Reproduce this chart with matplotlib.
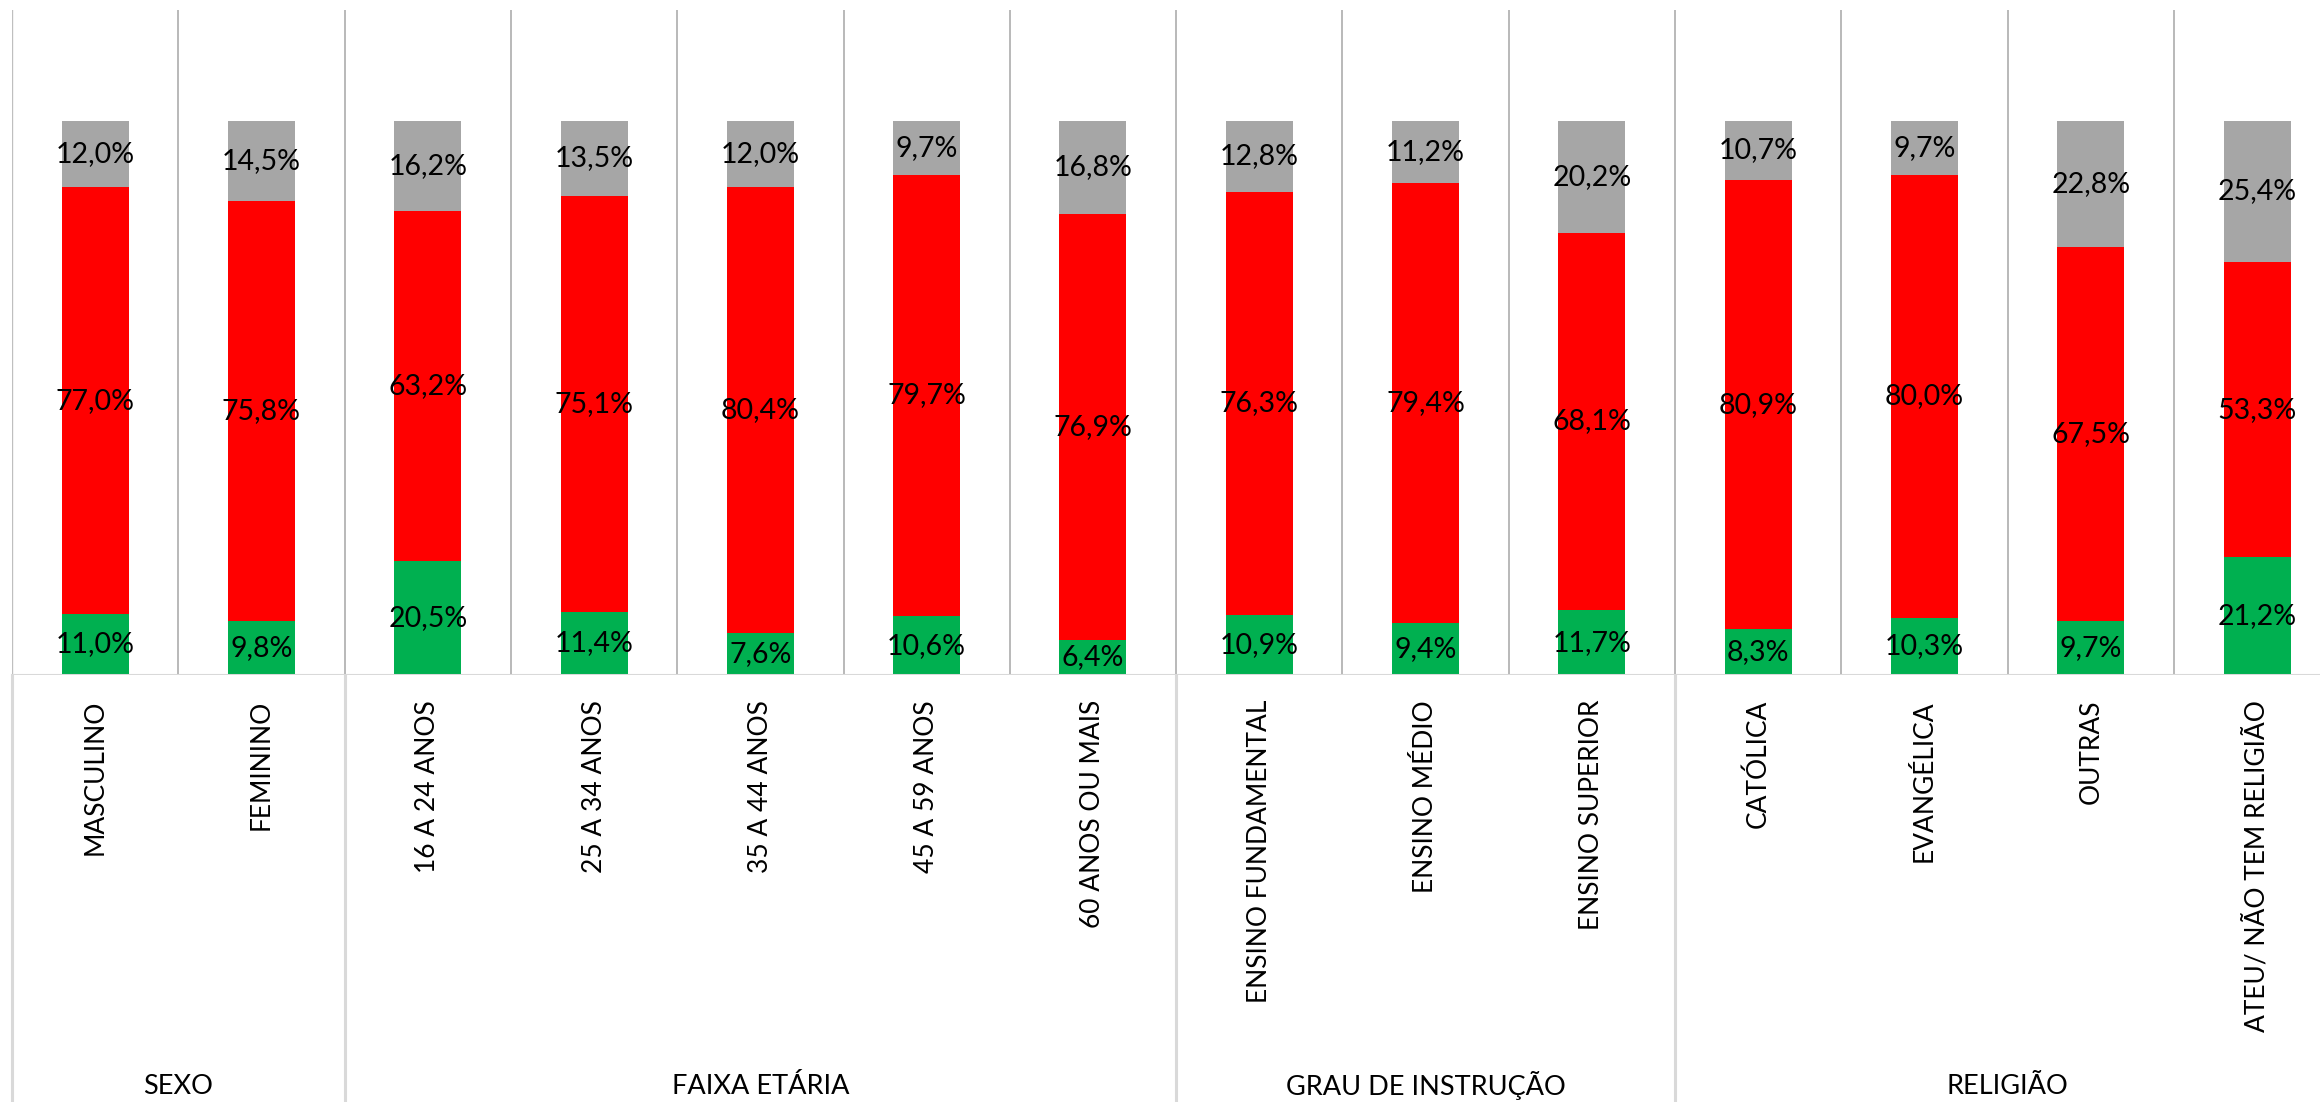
import matplotlib
matplotlib.use("Agg")
import matplotlib.pyplot as plt
import matplotlib.transforms as mtransforms
import numpy as np

plt.rcParams['font.family'] = ['Lato', 'DejaVu Sans']

categories = ["MASCULINO", "FEMININO", "16 A 24 ANOS", "25 A 34 ANOS", "35 A 44 ANOS",
              "45 A 59 ANOS", "60 ANOS OU MAIS", "ENSINO FUNDAMENTAL", "ENSINO MÉDIO",
              "ENSINO SUPERIOR", "CATÓLICA", "EVANGÉLICA", "OUTRAS", "ATEU/ NÃO TEM RELIGIÃO"]
green_vals = [11.0, 9.8, 20.5, 11.4, 7.6, 10.6, 6.4, 10.9, 9.4, 11.7, 8.3, 10.3, 9.7, 21.2]
red_vals = [77.0, 75.8, 63.2, 75.1, 80.4, 79.7, 76.9, 76.3, 79.4, 68.1, 80.9, 80.0, 67.5, 53.3]
grey_vals = [12.0, 14.5, 16.2, 13.5, 12.0, 9.7, 16.8, 12.8, 11.2, 20.2, 10.7, 9.7, 22.8, 25.4]
groups = ["SEXO", "FAIXA ETÁRIA", "GRAU DE INSTRUÇÃO", "RELIGIÃO"]
group_sizes = [2, 5, 3, 4]

W, H = 2320, 1102
fig = plt.figure(figsize=(W / 100, H / 100), dpi=100)

cell = 166.3
left_px, top_px, base_px = 12, 10, 675
n = len(categories)
ax = fig.add_axes([left_px / W, 1 - base_px / H, n * cell / W, (base_px - top_px) / H])

g = np.array(green_vals)
r = np.array(red_vals)
gr = np.array(grey_vals)
tot = g + r + gr
x = np.arange(n) + 0.5
bw = 0.403

cols = ["#00B050", "#FF0000", "#A6A6A6"]
bottom = np.zeros(n)
for vals, c in zip([g, r, gr], cols):
    h = vals / tot
    cont = ax.bar(x, h, bw, bottom=bottom, color=c, linewidth=0, zorder=3)
    labels = [f"{v:.1f}".replace('.', ',') + '%' for v in vals]
    ax.bar_label(cont, labels=labels, label_type='center', fontsize=20.5, color='black')
    bottom += h

ax.set_xlim(0, n)
ax.set_ylim(0, 1.2)
for s in ax.spines.values():
    s.set_visible(False)
ax.set_yticks([])
ax.set_xticks(x)
ax.set_xticklabels(categories, rotation=90, fontsize=19, va='top', ha='center')
ax.tick_params(axis='x', length=0, pad=18)

# group boundaries
bounds = np.concatenate([[0], np.cumsum(group_sizes)])
# separators inside plot area
for k in range(1, n):
    ax.axvline(k, ymin=0, ymax=1, color="#A6A6A6", lw=1.1, zorder=1)
ax.axvline(0, ymin=0, ymax=1, color="#BFBFBF", lw=1.7, zorder=1)

# baseline
ax.axhline(0, color="#D9D9D9", lw=2.2, zorder=4)

# lines in the label area
ybot = -(H - base_px) / ((base_px - top_px) / 1.2)
for b in bounds[:-1]:
    ax.plot([b, b], [0, ybot], color="#D9D9D9", lw=2.2, clip_on=False, zorder=1)

# group labels
trans = mtransforms.blended_transform_factory(ax.transData, fig.transFigure)
for i, name in enumerate(groups):
    cx = (bounds[i] + bounds[i + 1]) / 2
    ax.text(cx, 1 - 1086 / H, name, transform=trans, ha='center', va='center', fontsize=19.5)

fig.savefig("out.png", dpi=100)
